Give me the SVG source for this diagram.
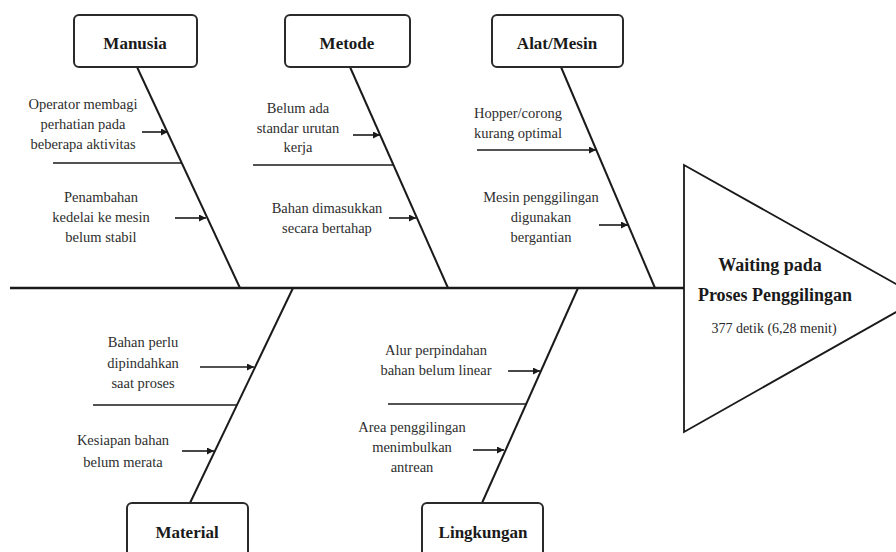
<svg xmlns="http://www.w3.org/2000/svg" width="896" height="552" viewBox="0 0 896 552">
  <defs>
    <marker id="arrowhead" viewBox="0 0 10 10" refX="10" refY="5" markerWidth="9" markerHeight="7" markerUnits="userSpaceOnUse" orient="auto">
      <path d="M0,0 L10,5 L0,10 z" fill="#1a1a1a"/>
    </marker>
    <style>
      text { font-family: 'Liberation Serif', 'Times New Roman', Tinos, Times, 'DejaVu Serif', serif; }
      .box { fill: #ffffff; stroke: #2a2a2a; stroke-width: 2; }
      .title { font-weight: bold; font-size: 17px; fill: #1a1a1a; text-anchor: middle; }
      .label { font-size: 14.5px; fill: #2e2e2e; text-anchor: middle; }
      .spine { stroke: #1a1a1a; stroke-width: 2.6; fill: none; }
      .bone { stroke: #1a1a1a; stroke-width: 2; fill: none; }
      .sub { stroke: #1a1a1a; stroke-width: 1.6; fill: none; }
      .cause { stroke: #1a1a1a; stroke-width: 1.6; fill: none; marker-end: url(#arrowhead); }
      .head { fill: #ffffff; stroke: #1a1a1a; stroke-width: 1.8; }
      .headTitle { font-weight: bold; font-size: 18px; fill: #1a1a1a; text-anchor: middle; }
      .headSub { font-size: 14px; fill: #2a2a2a; text-anchor: middle; }
    </style>
  </defs>

  <rect width="896" height="552" fill="#ffffff"/>

  <!-- spine, bones, dividers and cause arrows -->
  <g id="connectors">
    <line class="spine" x1="10" y1="288" x2="684" y2="288"/>

    <!-- upper bones -->
    <line class="bone" x1="137" y1="67" x2="240" y2="288"/>
    <line class="bone" x1="350" y1="67" x2="448" y2="288"/>
    <line class="bone" x1="561" y1="67" x2="655" y2="288"/>

    <!-- lower bones -->
    <line class="bone" x1="190" y1="503" x2="293" y2="288"/>
    <line class="bone" x1="482" y1="503" x2="578" y2="288"/>

    <!-- dividers between causes -->
    <line class="sub" x1="53" y1="163" x2="182" y2="163"/>
    <line class="sub" x1="253" y1="165" x2="393" y2="165"/>
    <line class="sub" x1="93" y1="405" x2="237" y2="405"/>
    <line class="sub" x1="388" y1="404" x2="526" y2="404"/>

    <!-- cause arrows -->
    <line class="cause" x1="142" y1="132" x2="168" y2="132"/>
    <line class="cause" x1="175" y1="218" x2="206" y2="218"/>
    <line class="cause" x1="353" y1="135" x2="380" y2="135"/>
    <line class="cause" x1="389" y1="218" x2="416" y2="218"/>
    <line class="cause" x1="477" y1="150" x2="596" y2="150"/>
    <line class="cause" x1="599" y1="225" x2="628" y2="225"/>
    <line class="cause" x1="200" y1="367" x2="254" y2="367"/>
    <line class="cause" x1="182" y1="451" x2="214" y2="451"/>
    <line class="cause" x1="508" y1="371" x2="540" y2="371"/>
    <line class="cause" x1="473" y1="450" x2="504" y2="450"/>
  </g>

  <!-- effect head -->
  <g id="effect">
    <polygon class="head" points="684,165 921,298 684,432"/>
    <text class="headTitle" x="770" y="271">Waiting pada</text>
    <text class="headTitle" x="775" y="301">Proses Penggilingan</text>
    <text class="headSub" x="774" y="333">377 detik (6,28 menit)</text>
  </g>

  <!-- category: Manusia -->
  <g id="manusia">
    <rect class="box" x="74" y="15" width="123" height="52" rx="5"/>
    <text class="title" x="135" y="49">Manusia</text>
    <text class="label" x="83" y="109">Operator membagi</text>
    <text class="label" x="83" y="129">perhatian pada</text>
    <text class="label" x="83" y="149">beberapa aktivitas</text>
    <text class="label" x="101" y="202">Penambahan</text>
    <text class="label" x="101" y="222">kedelai ke mesin</text>
    <text class="label" x="101" y="242">belum stabil</text>
  </g>

  <!-- category: Metode -->
  <g id="metode">
    <rect class="box" x="285" y="15" width="125" height="52" rx="5"/>
    <text class="title" x="347" y="49">Metode</text>
    <text class="label" x="298" y="113">Belum ada</text>
    <text class="label" x="298" y="133">standar urutan</text>
    <text class="label" x="298" y="152">kerja</text>
    <text class="label" x="327" y="213">Bahan dimasukkan</text>
    <text class="label" x="327" y="233">secara bertahap</text>
  </g>

  <!-- category: Alat/Mesin -->
  <g id="alat-mesin">
    <rect class="box" x="492" y="15" width="131" height="52" rx="5"/>
    <text class="title" x="557" y="49">Alat/Mesin</text>
    <text class="label" x="518" y="118">Hopper/corong</text>
    <text class="label" x="518" y="138">kurang optimal</text>
    <text class="label" x="541" y="202">Mesin penggilingan</text>
    <text class="label" x="541" y="222">digunakan</text>
    <text class="label" x="541" y="242">bergantian</text>
  </g>

  <!-- category: Material -->
  <g id="material">
    <rect class="box" x="127" y="503" width="121" height="60" rx="5"/>
    <text class="title" x="187" y="538">Material</text>
    <text class="label" x="143" y="347">Bahan perlu</text>
    <text class="label" x="143" y="368">dipindahkan</text>
    <text class="label" x="143" y="388">saat proses</text>
    <text class="label" x="123" y="445">Kesiapan bahan</text>
    <text class="label" x="123" y="467">belum merata</text>
  </g>

  <!-- category: Lingkungan -->
  <g id="lingkungan">
    <rect class="box" x="422" y="503" width="121" height="60" rx="5"/>
    <text class="title" x="483" y="538">Lingkungan</text>
    <text class="label" x="436" y="355">Alur perpindahan</text>
    <text class="label" x="436" y="375">bahan belum linear</text>
    <text class="label" x="412" y="432">Area penggilingan</text>
    <text class="label" x="412" y="452">menimbulkan</text>
    <text class="label" x="412" y="472">antrean</text>
  </g>
</svg>
